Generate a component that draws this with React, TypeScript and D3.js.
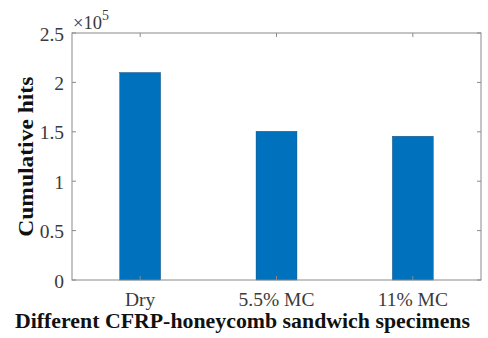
import React from "react";
import * as d3 from "d3";

const categories = ["Dry", "5.5% MC", "11% MC"];
const cumulativeHits = [2.1, 1.505, 1.455]; // ×10^5
const yTicks = [0, 0.5, 1, 1.5, 2, 2.5];
const yTickLabels = ["0", "0.5", "1", "1.5", "2", "2.5"];

export default function App() {
  const W = 488, H = 338;
  const left = 72, right = 481, top = 33, bottom = 280;
  const x = d3.scaleLinear().domain([0.5, 3.5]).range([left, right]);
  const y = d3.scaleLinear().domain([0, 2.5]).range([bottom, top]);
  const barW = x(1.3) - x(1);
  const axisColor = "#8a8a8a";
  const font = "Liberation Serif, Times New Roman, serif";
  const tick = 4;
  const tickFill = "#3a3a3a";
  return (
    <svg width={W} height={H} style={{ position: "absolute", left: 0, top: 0, background: "#fff", fontFamily: font }}>
      <rect x={0} y={0} width={W} height={H} fill="#fff" />
      {cumulativeHits.map((v, i) => (
        <rect key={i} x={x(i + 1) - barW / 2} y={y(v)} width={barW} height={y(0) - y(v)} fill="#0072BD" stroke="#0b3f6b" strokeWidth={0.4} />
      ))}
      <rect x={left} y={top} width={right - left} height={bottom - top} fill="none" stroke={axisColor} strokeWidth={1} />
      {yTicks.map((t, i) => (
        <g key={"y" + i}>
          <line x1={left} x2={left + tick} y1={y(t)} y2={y(t)} stroke={axisColor} />
          <line x1={right} x2={right - tick} y1={y(t)} y2={y(t)} stroke={axisColor} />
          <text x={left - 8} y={y(t) + 7.5} textAnchor="end" fontSize={19.5} fill={tickFill} style={{ fontFamily: font }}>{yTickLabels[i]}</text>
        </g>
      ))}
      {categories.map((c, i) => (
        <g key={"x" + i}>
          <line x1={x(i + 1)} x2={x(i + 1)} y1={bottom} y2={bottom - tick} stroke={axisColor} />
          <line x1={x(i + 1)} x2={x(i + 1)} y1={top} y2={top + tick} stroke={axisColor} />
          <text x={x(i + 1)} y={306} textAnchor="middle" fontSize={19.5} fill={tickFill} style={{ fontFamily: font }}>{c}</text>
        </g>
      ))}
      <text x={73} y={29} fontSize={18.5} fill={tickFill} style={{ fontFamily: font }}>×10<tspan dy={-9} fontSize={14}>5</tspan></text>
      <text x={242.5} y={328} textAnchor="middle" fontSize={22} fontWeight="bold" fill="#111" textLength={455} lengthAdjust="spacingAndGlyphs" style={{ fontFamily: font }}>Different CFRP-honeycomb sandwich specimens</text>
      <text transform={`translate(33,156.7) rotate(-90)`} textAnchor="middle" fontSize={20} fontWeight="bold" fill="#111" textLength={160} lengthAdjust="spacingAndGlyphs" style={{ fontFamily: font }}>Cumulative hits</text>
    </svg>
  );
}
